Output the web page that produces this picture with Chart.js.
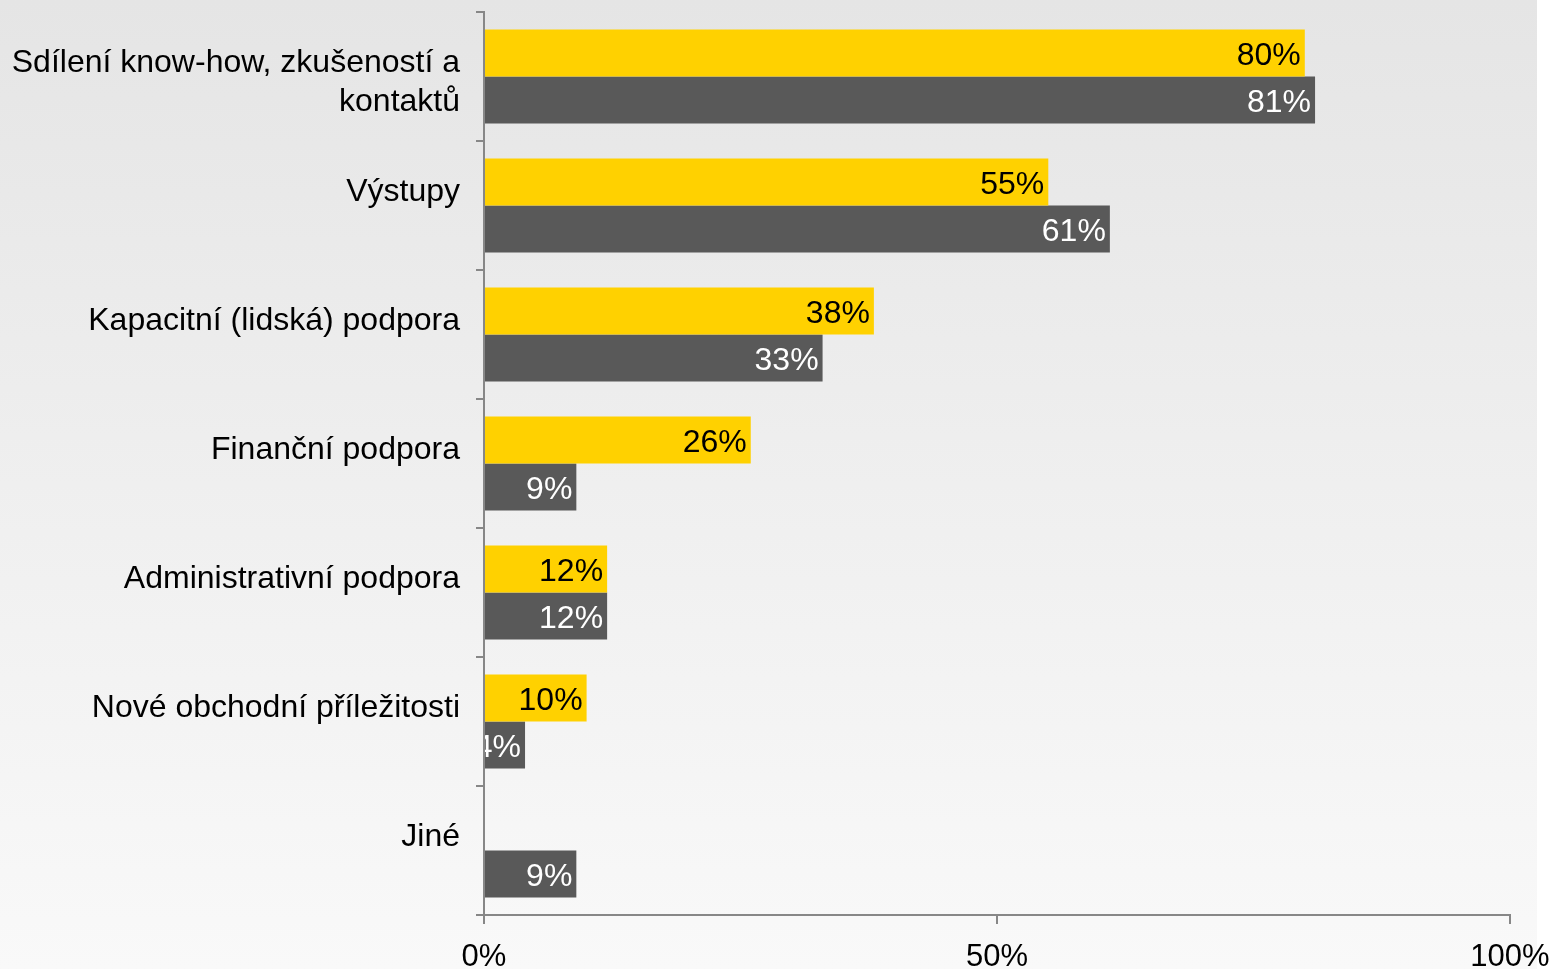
<!DOCTYPE html>
<html>
<head>
<meta charset="utf-8">
<script src="https://cdn.jsdelivr.net/npm/chart.js@4"></script>
<style>
html,body{margin:0;padding:0;background:#fff;}
#wrap{width:1555px;height:969px;position:relative;}
</style>
</head>
<body>
<div id="wrap"><canvas id="c" width="1555" height="969"></canvas></div>
<script>
const categories = [
  ["", "Sdílení know-how, zkušeností a", "kontaktů"],
  "Výstupy",
  "Kapacitní (lidská) podpora",
  "Finanční podpora",
  "Administrativní podpora",
  "Nové obchodní příležitosti",
  "Jiné"
];
const seriesYellow = [80, 55, 38, 26, 12, 10, null];
const seriesGray = [81, 61, 33, 9, 12, 4, 9];
const xTicks = [0, 50, 100];

const FONT = "'Liberation Sans', Arial, sans-serif";
const AXIS = '#878787';

const bgPlugin = {
  id: 'bg',
  beforeDraw(chart) {
    const ctx = chart.ctx;
    const g = ctx.createLinearGradient(0, 0, 0, chart.height);
    g.addColorStop(0, '#e5e5e5');
    g.addColorStop(1, '#f9f9f9');
    ctx.save();
    ctx.fillStyle = '#ffffff';
    ctx.fillRect(0, 0, chart.width, chart.height);
    ctx.fillStyle = g;
    ctx.fillRect(0, 0, 1537, chart.height);
    ctx.restore();
  }
};

const labelPlugin = {
  id: 'vals',
  afterDatasetsDraw(chart) {
    const ctx = chart.ctx;
    const a = chart.chartArea;
    ctx.save();
    ctx.beginPath();
    ctx.rect(a.left + 1, a.top, a.right - a.left, a.bottom - a.top);
    ctx.clip();
    ctx.font = '32px ' + FONT;
    ctx.textAlign = 'right';
    ctx.textBaseline = 'middle';
    chart.data.datasets.forEach((ds, di) => {
      const meta = chart.getDatasetMeta(di);
      meta.data.forEach((bar, i) => {
        const v = ds.data[i];
        if (v === null || v === undefined) return;
        ctx.fillStyle = di === 0 ? '#000000' : '#ffffff';
        ctx.fillText(v + '%', bar.x - 4, bar.y + 3);
      });
    });
    ctx.restore();
  }
};

new Chart(document.getElementById('c'), {
  type: 'bar',
  data: {
    labels: categories,
    datasets: [
      { data: seriesYellow, backgroundColor: '#FFD100', borderWidth: 0, categoryPercentage: 0.73, barPercentage: 1.0 },
      { data: seriesGray, backgroundColor: '#595959', borderWidth: 0, categoryPercentage: 0.73, barPercentage: 1.0 }
    ]
  },
  options: {
    indexAxis: 'y',
    responsive: false,
    animation: false,
    devicePixelRatio: 1,
    layout: { padding: { top: 12, right: 45, left: 0, bottom: 0 } },
    plugins: { legend: { display: false }, tooltip: { enabled: false } },
    scales: {
      x: {
        min: 0, max: 100,
        afterBuildTicks(scale) { scale.ticks = xTicks.map(v => ({ value: v })); },
        afterFit(scale) { scale.height = 54; scale.paddingLeft = 0; scale.paddingRight = 0; },
        grid: { drawOnChartArea: false, color: AXIS, lineWidth: 2, tickLength: 9 },
        border: { color: AXIS, width: 2 },
        ticks: {
          color: '#000', font: { family: FONT, size: 31 }, padding: 15,
          maxRotation: 0, autoSkip: false,
          callback: v => v + '%'
        }
      },
      y: {
        afterFit(scale) { scale.width = 484; scale.paddingTop = 0; scale.paddingBottom = 0; },
        grid: { drawOnChartArea: false, color: AXIS, lineWidth: 2, tickLength: 8, offset: true },
        border: { color: AXIS, width: 2 },
        ticks: {
          color: '#000', font: { family: FONT, size: 32, lineHeight: 1.2 }, padding: 16,
          autoSkip: false, labelOffset: -13
        }
      }
    }
  },
  plugins: [bgPlugin, labelPlugin]
});
</script>
</body>
</html>
